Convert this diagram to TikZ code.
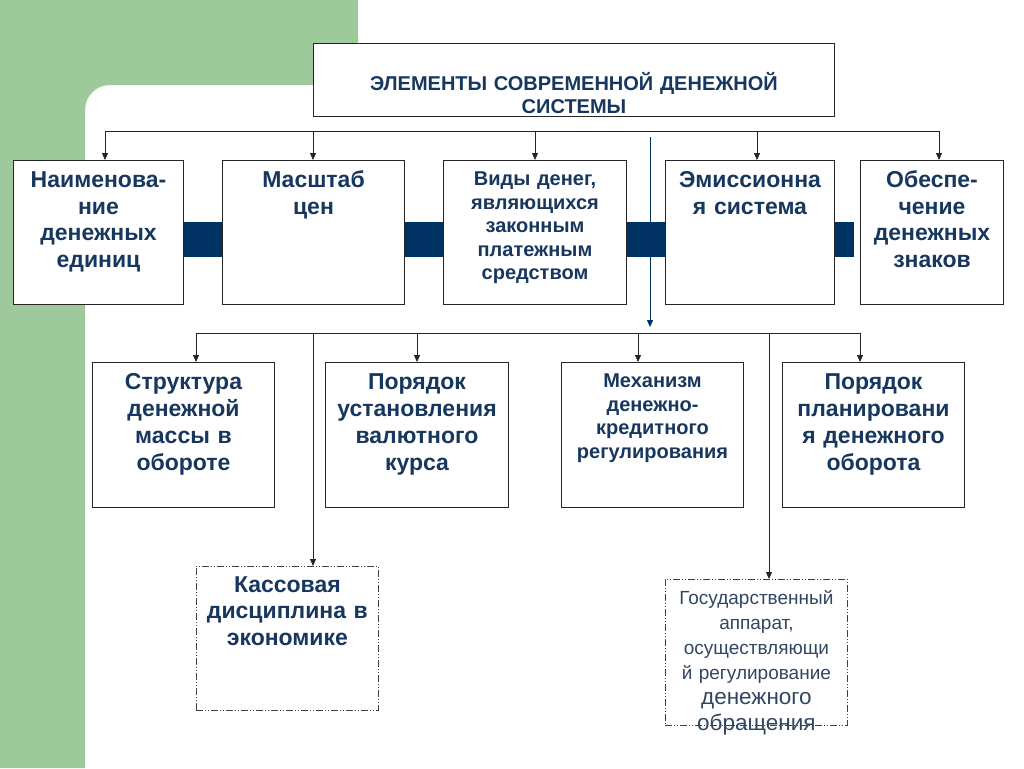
\documentclass[tikz,border=0pt]{standalone}
\usepackage{fontspec}
\setmainfont{Liberation Sans}
\usepackage{xcolor}
\usetikzlibrary{arrows.meta}
\definecolor{bggreen}{RGB}{158,201,154}
\definecolor{navy}{RGB}{0,50,100}
\definecolor{txtblue}{RGB}{23,55,94}
\definecolor{greyblue}{RGB}{50,70,98}

\begin{document}
\begin{tikzpicture}[x=1pt,y=-1pt,
    box/.style={draw=black!85,line width=1pt,fill=white,anchor=north west,inner sep=0pt,align=center,text=txtblue},
    dbox/.style={box,draw=black!75,line width=0.8pt,dash pattern=on 7pt off 2pt on 1pt off 2pt on 1pt off 2pt},
    bigtxt/.style={font=\fontsize{23}{26.5}\selectfont\bfseries},
    smalltxt/.style={font=\fontsize{20}{23.5}\selectfont\bfseries},
    bar/.style={fill=navy},
    link/.style={line width=0.8pt,black!85},
    arr/.style={link,-{Triangle[length=7pt,width=6pt]}}]
    % background
    \fill[white] (0,0) rectangle (1024,768);
    \fill[bggreen] (0,0) -- (358,0) -- (358,85) -- (110,85) arc[start angle=90,end angle=180,radius=25pt] -- (85,768) -- (0,768) -- cycle;
    % title
    \node[box,text width=521pt,text height=47pt,text depth=26pt,font=\fontsize{20}{23}\selectfont\bfseries] (top) at (313,43) {ЭЛЕМЕНТЫ СОВРЕМЕННОЙ ДЕНЕЖНОЙ\\СИСТЕМЫ};
    % first row
    \node[box,bigtxt,text width=170pt,text height=27pt,text depth=117pt] (nam) at (13,160) {Наименова-\\ние\\денежных\\единиц};
    \node[box,bigtxt,text width=182pt,text height=27pt,text depth=117pt] (msh) at (222,160) {Масштаб\\цен};
    \node[box,smalltxt,text width=183pt,text height=25pt,text depth=119pt] (vid) at (443,160) {Виды денег,\\являющихся\\законным\\платежным\\средством};
    \node[box,bigtxt,text width=169pt,text height=27pt,text depth=117pt] (emi) at (665,160) {Эмиссионна\\я система};
    \node[box,bigtxt,text width=143pt,text height=27pt,text depth=117pt] (obs) at (860,160) {Обеспе-\\чение\\денежных\\знаков};
    \fill[bar] (nam.north east |- 0,222) rectangle (msh.west |- 0,257);
    \fill[bar] (msh.north east |- 0,222) rectangle (vid.west |- 0,257);
    \fill[bar] (vid.north east |- 0,222) rectangle (emi.west |- 0,257);
    \fill[bar] (emi.north east |- 0,222) rectangle (854,257);
    % second row
    \node[box,bigtxt,font=\fontsize{23}{27}\selectfont\bfseries,text width=182pt,text height=27pt,text depth=118pt] (str) at (92,362) {Структура\\денежной\\массы в\\обороте};
    \node[box,bigtxt,font=\fontsize{23}{27}\selectfont\bfseries,text width=183pt,text height=27pt,text depth=118pt] (por) at (325,362) {Порядок\\установления\\валютного\\курса};
    \node[box,smalltxt,text width=182pt,text height=25pt,text depth=120pt] (mex) at (561,362) {Механизм\\денежно-\\кредитного\\регулирования};
    \node[box,bigtxt,font=\fontsize{23}{27}\selectfont\bfseries,text width=182pt,text height=27pt,text depth=118pt] (pln) at (782,362) {Порядок\\планировани\\я денежного\\оборота};
    % third row
    \node[dbox,bigtxt,text width=182pt,text height=26pt,text depth=118pt] (kas) at (196,566) {Кассовая\\дисциплина в\\экономике};
    \node[dbox,text=greyblue,text width=182pt,text height=25pt,text depth=121pt,font=\fontsize{19}{25}\selectfont] (gos) at (665,579) {Государственный\\аппарат,\\осуществляющи\\й регулирование\par
        {\fontsize{22.5}{25.5}\selectfont денежного\\обращения\par}};
    % connectors
    \draw[link] (105,131) -- (939,131);
    \foreach \n/\x in {nam/105,msh/313,vid/535,emi/757,obs/939}
        \draw[arr] (\x,131) -- (\x,131 |- \n.north);
    \draw[arr,draw=navy] (650,137) -- (650,327);
    \draw[link] (196,333) -- (860,333);
    \foreach \n/\x in {str/196,por/417,mex/638,pln/860,kas/313,gos/769}
        \draw[arr] (\x,333) -- (\x,333 |- \n.north);
\end{tikzpicture}
\end{document}
